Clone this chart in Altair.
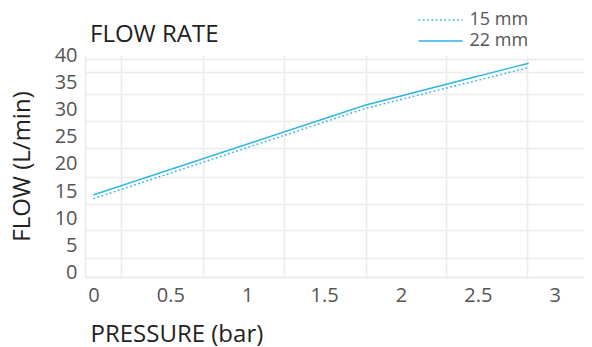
import altair as alt
import pandas as pd

# ---- data ----
pressure = [0.0, 1.77, 2.83]
flow_15 = [13.6, 30.2, 37.7]
flow_22 = [14.3, 30.8, 38.5]
series = ["15 mm", "22 mm"]

x_ticks = [0, 0.5, 1, 1.5, 2, 2.5, 3]
y_ticks = [0, 5, 10, 15, 20, 25, 30, 35, 40]
x_grid = [0.18, 0.71, 1.24, 1.77, 2.29, 2.82]
y_grid = [2.7, 7.8, 12.7, 17.6, 22.9, 27.9, 32.8, 36.9, 39.27]

rows = []
for name, vals in zip(series, [flow_15, flow_22]):
    for p, f in zip(pressure, vals):
        rows.append({"pressure": p, "flow": f, "size": name})
df = pd.DataFrame(rows)

CYAN = "#2bb5e2"
FONT = "Open Sans"
GRID = "#ececec"

xscale = alt.Scale(domain=[-0.0546, 3.19], nice=False, zero=False)
yscale = alt.Scale(domain=[-0.79, 40], nice=False, zero=False)

grid_layer = alt.Chart(df).mark_point(opacity=0).encode(
    x=alt.X("pressure:Q", scale=xscale,
            axis=alt.Axis(orient="top", values=x_grid, grid=True, labels=False,
                          ticks=False, domain=False, title=None,
                          gridColor=GRID, gridWidth=1.6)),
    y=alt.Y("flow:Q", scale=yscale,
            axis=alt.Axis(orient="right", values=y_grid, grid=True, labels=False,
                          ticks=False, domain=False, title=None,
                          gridColor=GRID, gridWidth=1.6)),
)

lines = alt.Chart(df).mark_line(color=CYAN, strokeWidth=1.5).encode(
    x=alt.X("pressure:Q", scale=xscale,
            axis=alt.Axis(orient="bottom", values=x_ticks, format="~g", grid=False,
                          ticks=False, tickSize=0, labelPadding=18,
                          labelBaseline="middle",
                          labelFont=FONT, labelFontSize=20, labelColor="#555555",
                          labelFlush=False, labelOverlap=False,
                          domainColor=GRID, domainWidth=2,
                          title="PRESSURE (bar)", titleFont=FONT, titleFontSize=24,
                          titleFontWeight="normal", titleColor="#222222",
                          titleAnchor="start", titleAlign="left",
                          titleBaseline="middle", titleX=5, titleY=57)),
    y=alt.Y("flow:Q", scale=yscale,
            axis=alt.Axis(orient="left", values=y_ticks, grid=False, ticks=False,
                          tickSize=0, labelPadding=8, labelBaseline="middle",
                          labelFont=FONT, labelFontSize=20, labelColor="#555555",
                          labelFlush=False, labelOverlap=False,
                          domainColor=GRID, domainWidth=1.6,
                          title="FLOW (L/min)", titleFont=FONT, titleFontSize=24,
                          titleFontWeight="normal", titleColor="#222222",
                          titleAlign="center", titleBaseline="middle",
                          titleAngle=270, titleX=-63, titleY=111)),
    strokeDash=alt.StrokeDash(
        "size:N",
        scale=alt.Scale(domain=series, range=[[1.7, 2.6], [1, 0]]),
        legend=alt.Legend(orient="none", legendX=346.5, legendY=-44, title=None,
                          symbolType="M-4,0H4", symbolSize=121,
                          symbolStrokeWidth=1.5, symbolStrokeColor=CYAN,
                          labelFont=FONT, labelFontSize=18, labelColor="#555555",
                          labelOffset=20, rowPadding=3, padding=0),
    ),
)

chart = (
    alt.layer(grid_layer, lines)
    .resolve_axis(x="independent", y="independent")
    .properties(
        width=499,
        height=222,
        padding={"left": 77, "top": 47, "right": 0, "bottom": 70},
        autosize=alt.AutoSizeParams(type="none"),
        title=alt.TitleParams("FLOW RATE", anchor="start", frame="group",
                              font=FONT, fontSize=24, fontWeight="normal",
                              color="#222222", dx=5, dy=52, baseline="middle"),
    )
    .configure_view(stroke=None)
)

chart.save("out.html", embed_options={"renderer": "svg", "actions": False})
